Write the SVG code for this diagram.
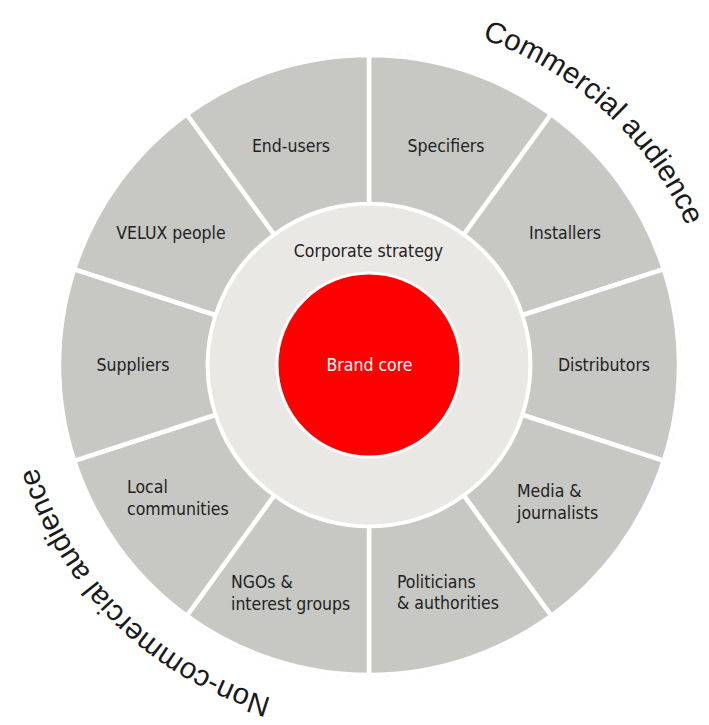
<svg xmlns="http://www.w3.org/2000/svg" xmlns:xlink="http://www.w3.org/1999/xlink" width="709" height="725" viewBox="0 0 709 725">
<style>
.seg{fill:#c7c7c3;stroke:#ffffff;stroke-width:4.5;stroke-linejoin:miter}
.lbl{font-family:"DejaVu Sans Condensed","DejaVu Sans",sans-serif;font-stretch:condensed;font-size:17.5px;fill:#222222}
.arc{font-family:"Liberation Sans",Arial,sans-serif;font-size:29.5px;fill:#1a1a1a}
</style>
<defs>
<path id="arcTop" d="M 481.9 38.8 A 347 347 0 0 1 699 258"/>
<path id="arcBot" d="M 271.4 698.0 A 347 347 0 0 1 22 380"/>
</defs>
<rect width="709" height="725" fill="#ffffff"/>
<circle cx="369" cy="365" r="311.5" fill="#ffffff" stroke="#c4c4c4" stroke-width="0.8"/>
<g id="connectors"></g>
<g id="specifiers">
<path class="seg" d="M 369 55 A 310 310 0 0 1 551.21 114.2 L 463.63 234.75 A 161 161 0 0 0 369 204 Z"/>
<text class="lbl" x="446" y="152" text-anchor="middle">Specifiers</text>
</g>
<g id="installers">
<path class="seg" d="M 551.21 114.2 A 310 310 0 0 1 663.83 269.2 L 522.12 315.25 A 161 161 0 0 0 463.63 234.75 Z"/>
<text class="lbl" x="565" y="239" text-anchor="middle">Installers</text>
</g>
<g id="distributors">
<path class="seg" d="M 663.83 269.2 A 310 310 0 0 1 663.83 460.8 L 522.12 414.75 A 161 161 0 0 0 522.12 315.25 Z"/>
<text class="lbl" x="604" y="371" text-anchor="middle">Distributors</text>
</g>
<g id="media">
<path class="seg" d="M 663.83 460.8 A 310 310 0 0 1 551.21 615.8 L 463.63 495.25 A 161 161 0 0 0 522.12 414.75 Z"/>
<text class="lbl" x="517" y="497">Media &amp;</text>
<text class="lbl" x="517" y="518.5">journalists</text>
</g>
<g id="politicians">
<path class="seg" d="M 551.21 615.8 A 310 310 0 0 1 369 675 L 369 526 A 161 161 0 0 0 463.63 495.25 Z"/>
<text class="lbl" x="397" y="587.5">Politicians</text>
<text class="lbl" x="397" y="609">&amp; authorities</text>
</g>
<g id="ngos">
<path class="seg" d="M 369 675 A 310 310 0 0 1 186.79 615.8 L 274.37 495.25 A 161 161 0 0 0 369 526 Z"/>
<text class="lbl" x="231" y="588">NGOs &amp;</text>
<text class="lbl" x="231" y="609.5">interest groups</text>
</g>
<g id="local-communities">
<path class="seg" d="M 186.79 615.8 A 310 310 0 0 1 74.17 460.8 L 215.88 414.75 A 161 161 0 0 0 274.37 495.25 Z"/>
<text class="lbl" x="127" y="493">Local</text>
<text class="lbl" x="127" y="514.5">communities</text>
</g>
<g id="suppliers">
<path class="seg" d="M 74.17 460.8 A 310 310 0 0 1 74.17 269.2 L 215.88 315.25 A 161 161 0 0 0 215.88 414.75 Z"/>
<text class="lbl" x="133" y="371" text-anchor="middle">Suppliers</text>
</g>
<g id="velux-people">
<path class="seg" d="M 74.17 269.2 A 310 310 0 0 1 186.79 114.2 L 274.37 234.75 A 161 161 0 0 0 215.88 315.25 Z"/>
<text class="lbl" x="171" y="239" text-anchor="middle">VELUX people</text>
</g>
<g id="end-users">
<path class="seg" d="M 186.79 114.2 A 310 310 0 0 1 369 55 L 369 204 A 161 161 0 0 0 274.37 234.75 Z"/>
<text class="lbl" x="291" y="152" text-anchor="middle">End-users</text>
</g>
<g id="corporate-strategy">
<circle cx="369" cy="365" r="159.5" fill="#e9e8e4"/>
<text class="lbl" x="368.5" y="257" text-anchor="middle">Corporate strategy</text>
</g>
<g id="brand-core">
<circle cx="369" cy="365" r="92" fill="#ff0000" stroke="#ffffff" stroke-width="3"/>
<text class="lbl" x="369.5" y="370.5" text-anchor="middle" style="fill:#ffffff">Brand core</text>
</g>
<g id="commercial-audience">
<text class="arc"><textPath xlink:href="#arcTop" href="#arcTop">Commercial audience</textPath></text>
</g>
<g id="non-commercial-audience">
<text class="arc"><textPath xlink:href="#arcBot" href="#arcBot">Non-commercial audience</textPath></text>
</g>
</svg>
